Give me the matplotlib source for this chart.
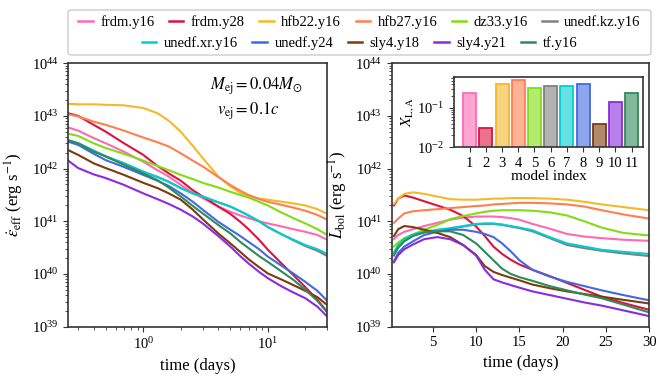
import numpy as np
import matplotlib
matplotlib.use("Agg")
import matplotlib.pyplot as plt
from matplotlib.lines import Line2D
from matplotlib.patches import FancyBboxPatch

# model names and colours
models = ["frdm.y16", "frdm.y28", "hfb22.y16", "hfb27.y16", "dz33.y16",
          "unedf.kz.y16", "unedf.xr.y16", "unedf.y24", "sly4.y18",
          "sly4.y21", "tf.y16"]
colors = ["#ff69b4", "#dc143c", "#f5b82a", "#ff7f50", "#80dc14",
          "#808080", "#00ced1", "#4169e1", "#7f3a0c", "#8a2be2", "#2e8b57"]

# effective heating rate, log10(erg/s)
t_heat = [0.25, 0.3, 0.4, 0.5, 0.7, 1, 1.3, 1.6, 2, 2.5, 3, 4, 5, 6, 7, 8.5, 10, 13, 16, 20, 25, 30]
heat_frdm_y16 = [42.78, 42.72, 42.58, 42.48, 42.32, 42.13, 41.97, 41.85, 41.69, 41.54, 41.44, 41.28, 41.18, 41.11, 41.06, 41.00, 40.96, 40.90, 40.85, 40.80, 40.74, 40.65]
heat_frdm_y28 = [43.05, 43.00, 42.83, 42.70, 42.48, 42.26, 42.05, 41.91, 41.77, 41.59, 41.47, 41.28, 41.14, 40.99, 40.85, 40.65, 40.46, 40.19, 39.98, 39.75, 39.51, 39.28]
heat_hfb22_y16 = [43.23, 43.22, 43.22, 43.21, 43.20, 43.15, 43.05, 42.91, 42.70, 42.43, 42.20, 41.85, 41.66, 41.54, 41.48, 41.43, 41.41, 41.37, 41.34, 41.30, 41.23, 41.14]
heat_hfb27_y16 = [43.03, 42.99, 42.89, 42.83, 42.72, 42.59, 42.50, 42.42, 42.29, 42.15, 42.04, 41.84, 41.69, 41.58, 41.50, 41.42, 41.37, 41.31, 41.26, 41.20, 41.12, 41.03]
heat_dz33_y16 = [42.66, 42.62, 42.48, 42.39, 42.28, 42.15, 42.05, 41.97, 41.88, 41.80, 41.73, 41.64, 41.56, 41.50, 41.45, 41.37, 41.30, 41.16, 41.06, 40.96, 40.85, 40.74]
heat_unedf_kz_y16 = [42.53, 42.48, 42.34, 42.23, 42.10, 41.94, 41.84, 41.75, 41.63, 41.53, 41.47, 41.36, 41.28, 41.19, 41.11, 41.00, 40.89, 40.75, 40.64, 40.53, 40.44, 40.34]
heat_unedf_xr_y16 = [42.53, 42.48, 42.34, 42.23, 42.10, 41.94, 41.84, 41.75, 41.63, 41.53, 41.47, 41.36, 41.28, 41.19, 41.11, 41.00, 40.89, 40.75, 40.65, 40.55, 40.47, 40.38]
heat_unedf_y24 = [42.51, 42.45, 42.28, 42.16, 42.03, 41.88, 41.77, 41.67, 41.53, 41.37, 41.22, 40.99, 40.84, 40.72, 40.61, 40.47, 40.33, 40.15, 40.01, 39.85, 39.68, 39.49]
heat_sly4_y18 = [42.35, 42.26, 42.10, 42.01, 41.88, 41.73, 41.63, 41.53, 41.41, 41.22, 41.04, 40.77, 40.58, 40.42, 40.28, 40.13, 40.01, 39.89, 39.79, 39.68, 39.56, 39.41]
heat_sly4_y21 = [42.15, 42.01, 41.89, 41.82, 41.69, 41.53, 41.42, 41.33, 41.22, 41.09, 40.96, 40.72, 40.52, 40.34, 40.20, 40.04, 39.92, 39.76, 39.65, 39.54, 39.38, 39.19]
heat_tf_y16 = [42.54, 42.48, 42.32, 42.23, 42.07, 41.91, 41.78, 41.64, 41.47, 41.29, 41.15, 40.93, 40.77, 40.61, 40.49, 40.34, 40.23, 40.04, 39.89, 39.70, 39.49, 39.27]

# bolometric luminosity, log10(erg/s)
t_lum = [0.5, 1, 1.7, 2.7, 4, 5.5, 7, 8.5, 10, 11, 12, 13, 14, 15, 16.5, 18.5, 20.5, 22.5, 24.5, 27, 30]
lum_frdm_y16 = [40.66, 40.74, 40.80, 40.85, 40.91, 40.97, 41.03, 41.07, 41.09, 41.09, 41.09, 41.08, 41.06, 41.03, 40.95, 40.86, 40.76, 40.71, 40.68, 40.65, 40.63]
lum_frdm_y28 = [41.30, 41.43, 41.49, 41.45, 41.38, 41.30, 41.22, 41.10, 40.90, 40.72, 40.52, 40.38, 40.27, 40.18, 40.08, 39.96, 39.83, 39.70, 39.57, 39.45, 39.32]
lum_hfb22_y16 = [41.33, 41.43, 41.52, 41.55, 41.52, 41.47, 41.42, 41.41, 41.41, 41.42, 41.43, 41.43, 41.44, 41.44, 41.44, 41.43, 41.41, 41.37, 41.32, 41.27, 41.21]
lum_hfb27_y16 = [40.97, 41.05, 41.15, 41.19, 41.21, 41.23, 41.25, 41.27, 41.29, 41.30, 41.32, 41.33, 41.34, 41.35, 41.35, 41.34, 41.32, 41.28, 41.21, 41.13, 41.05]
lum_dz33_y16 = [40.52, 40.60, 40.68, 40.75, 40.84, 40.93, 41.04, 41.10, 41.15, 41.18, 41.20, 41.21, 41.21, 41.21, 41.20, 41.17, 41.11, 41.00, 40.88, 40.78, 40.73]
lum_unedf_kz_y16 = [40.40, 40.54, 40.65, 40.74, 40.79, 40.83, 40.86, 40.90, 40.94, 40.95, 40.95, 40.93, 40.90, 40.87, 40.81, 40.68, 40.55, 40.49, 40.44, 40.39, 40.34]
lum_unedf_xr_y16 = [40.40, 40.55, 40.66, 40.75, 40.80, 40.84, 40.87, 40.91, 40.95, 40.96, 40.96, 40.94, 40.91, 40.88, 40.83, 40.70, 40.58, 40.52, 40.46, 40.42, 40.38]
lum_unedf_y24 = [40.24, 40.40, 40.52, 40.62, 40.74, 40.80, 40.84, 40.84, 40.80, 40.76, 40.70, 40.58, 40.43, 40.26, 40.08, 39.95, 39.85, 39.77, 39.69, 39.60, 39.50]
lum_sly4_y18 = [40.72, 40.85, 40.91, 40.89, 40.84, 40.78, 40.70, 40.55, 40.36, 40.15, 40.04, 39.98, 39.93, 39.88, 39.80, 39.73, 39.67, 39.62, 39.57, 39.51, 39.44]
lum_sly4_y21 = [40.22, 40.36, 40.47, 40.56, 40.66, 40.70, 40.66, 40.55, 40.35, 40.08, 39.90, 39.84, 39.79, 39.74, 39.67, 39.60, 39.53, 39.46, 39.40, 39.31, 39.20]
lum_tf_y16 = [40.35, 40.50, 40.62, 40.72, 40.79, 40.81, 40.81, 40.74, 40.58, 40.42, 40.26, 40.10, 40.00, 39.94, 39.87, 39.77, 39.69, 39.61, 39.54, 39.42, 39.27]

# lanthanide/actinide mass fraction per model (inset)
model_index = list(range(1, 12))
x_la = [0.238, 0.031, 0.41, 0.526, 0.33, 0.37, 0.36, 0.41, 0.040, 0.14, 0.238]

heat_curves = [heat_frdm_y16, heat_frdm_y28, heat_hfb22_y16, heat_hfb27_y16,
               heat_dz33_y16, heat_unedf_kz_y16, heat_unedf_xr_y16,
               heat_unedf_y24, heat_sly4_y18, heat_sly4_y21, heat_tf_y16]
lum_curves = [lum_frdm_y16, lum_frdm_y28, lum_hfb22_y16, lum_hfb27_y16,
              lum_dz33_y16, lum_unedf_kz_y16, lum_unedf_xr_y16,
              lum_unedf_y24, lum_sly4_y18, lum_sly4_y21, lum_tf_y16]

SERIF = ["Liberation Serif", "DejaVu Serif"]
plt.rcParams["font.family"] = SERIF
plt.rcParams["mathtext.fontset"] = "stix"
plt.rcParams["axes.edgecolor"] = "#333333"
plt.rcParams["axes.linewidth"] = 1.2


def style_axis(ax):
    ax.set_yscale("log")
    ax.set_ylim(1e39, 1e44)
    ax.tick_params(which="both", colors="#333333", labelcolor="black", labelsize=10.5)


def main():
    fig = plt.figure(figsize=(6.67, 3.83), dpi=100)
    ax1 = fig.add_axes([0.1024, 0.147, 0.3883, 0.688])
    ax2 = fig.add_axes([0.5873, 0.147, 0.3862, 0.688])

    # left: heating rate vs log time
    for vals, c in zip(heat_curves, colors):
        ax1.plot(t_heat, 10 ** np.array(vals), color=c, lw=1.5)
    ax1.set_xscale("log")
    ax1.set_xlim(0.25, 30)
    style_axis(ax1)
    ax1.set_xlabel("time (days)", fontsize=12)
    ax1.set_ylabel(r"$\dot{\epsilon}_{\rm eff}$ (erg s$^{-1}$)", fontsize=12)
    ax1.text(0.725, 0.914, r"$M_{\rm ej} = 0.04M_{\odot}$", transform=ax1.transAxes,
             ha="center", va="center", fontsize=12)
    ax1.text(0.694, 0.819, r"$v_{\rm ej} = 0.1c$", transform=ax1.transAxes,
             ha="center", va="center", fontsize=12)

    # right: bolometric luminosity vs linear time
    for vals, c in zip(lum_curves, colors):
        ax2.plot(t_lum, 10 ** np.array(vals), color=c, lw=1.5)
    ax2.set_xlim(0.25, 30)
    ax2.set_xticks([5, 10, 15, 20, 25, 30])
    style_axis(ax2)
    ax2.set_xlabel("time (days)", fontsize=12)
    ax2.set_ylabel(r"$L_{\rm bol}$ (erg s$^{-1}$)", fontsize=12)

    # inset bar chart
    axin = fig.add_axes([0.681, 0.616, 0.283, 0.183])
    for i, v, c in zip(model_index, x_la, colors):
        axin.bar(i, v, width=0.8, color=c, alpha=0.6)
        axin.bar(i, v, width=0.8, facecolor="none", edgecolor=c, lw=1.3)
    axin.set_yscale("log")
    axin.set_ylim(1e-2, 0.62)
    axin.set_xlim(0.05, 11.7)
    axin.set_xticks(model_index)
    axin.tick_params(which="both", colors="#333333", labelcolor="black", labelsize=10.5)
    axin.set_xlabel("model index", fontsize=11, labelpad=0)
    axin.set_ylabel(r"$X_{\rm L,A}$", fontsize=11, labelpad=1)

    # legend: six entries on the first row, five centred on the second
    handles = [Line2D([], [], color=c, lw=1.8) for c in colors]
    frame = FancyBboxPatch((68 / 667, 1 - 55 / 383), 583 / 667, 45 / 383,
                           boxstyle="round,pad=0,rounding_size=0.006",
                           transform=fig.transFigure, facecolor="white",
                           edgecolor="#cccccc", lw=1.0)
    fig.add_artist(frame)
    for rows, ypix in [((0, 6), 22), ((6, 11), 43)]:
        lo, hi = rows
        fig.legend(handles[lo:hi], models[lo:hi], ncol=hi - lo, loc="center",
                   bbox_to_anchor=(0.539, 1 - ypix / 383), frameon=False,
                   prop={"family": SERIF, "size": 10.5}, handlelength=1.0,
                   handletextpad=0.5, columnspacing=1.0, borderpad=0,
                   borderaxespad=0)

    fig.savefig("out.png", dpi=100)


if __name__ == "__main__":
    main()
